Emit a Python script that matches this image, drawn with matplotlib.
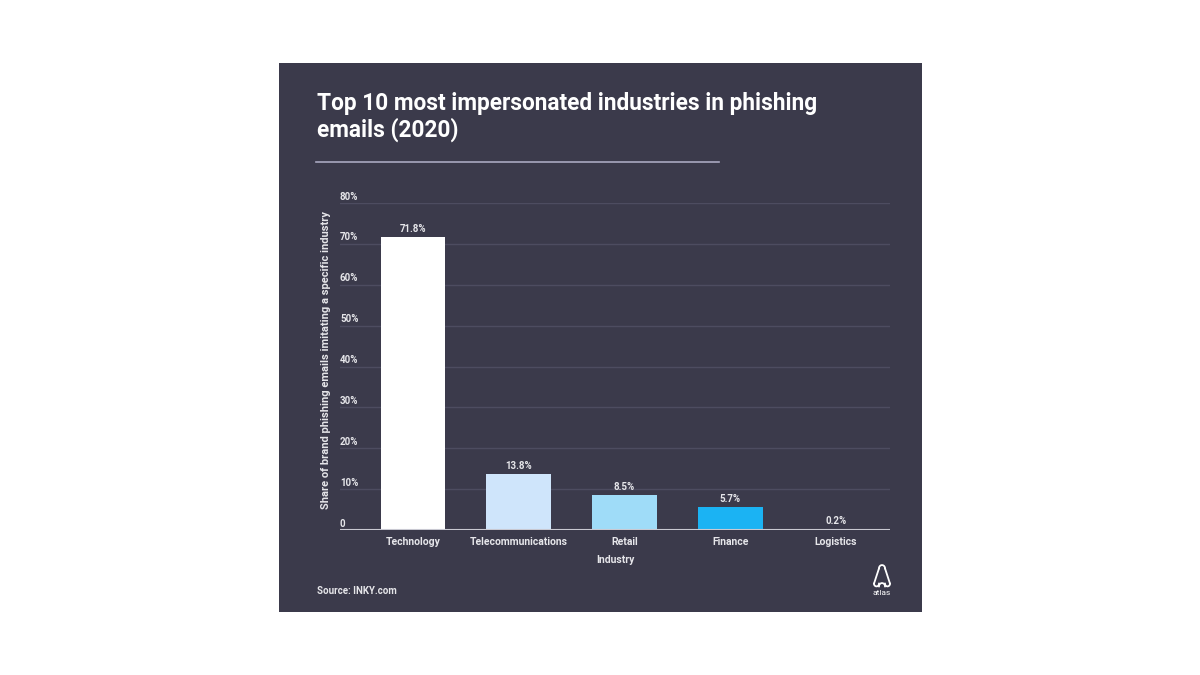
import matplotlib.pyplot as plt
from matplotlib.patches import Rectangle
from matplotlib.lines import Line2D
import numpy as np

industries = ["Technology", "Telecommunications", "Retail", "Finance", "Logistics"]
shares = [71.8, 13.8, 8.5, 5.7, 0.2]
bar_colors = ["#ffffff", "#cfe5fb", "#9fdcf8", "#1bb3f3", "#1a9de0"]
y_ticks = [0, 10, 20, 30, 40, 50, 60, 70, 80]
y_tick_labels = ["0", "10%", "20%", "30%", "40%", "50%", "60%", "70%", "80%"]

bg = "#3b3a4b"
grid_col = "#4d4c60"
text_col = "#e6e6ea"

plt.rcParams['font.family'] = ['Roboto', 'DejaVu Sans']

fig = plt.figure(figsize=(12, 6.75), dpi=100)
fig.patch.set_facecolor("white")

# dark card behind everything
fig.patches.append(Rectangle((279 / 1200, 1 - 612 / 675), 643 / 1200, 549 / 675,
                             transform=fig.transFigure, facecolor=bg, edgecolor="none", zorder=-10))

# title + separator
fig.text(317 / 1200, 1 - 92 / 675, "Top 10 most impersonated industries in phishing\nemails (2020)",
         color="white", fontsize=16.3, fontweight="bold", va="top", ha="left", linespacing=1.15)
fig.add_artist(Line2D([316 / 1200, 719 / 1200], [1 - 162 / 675, 1 - 162 / 675],
                      transform=fig.transFigure, color="#a9a8c0", linewidth=1.2))

ax = fig.add_axes([340 / 1200, 1 - 530 / 675, 550 / 1200, 327 / 675])
ax.set_zorder(1)
ax.set_facecolor("none")
x = np.arange(len(industries))
ax.bar(x, shares, width=0.61, color=bar_colors, zorder=3)
ax.set_xlim(-0.69, 4.51)
ax.set_ylim(0, 80)

for yt, lab in zip(y_ticks, y_tick_labels):
    if yt > 0:
        ax.axhline(yt, color=grid_col, linewidth=1, zorder=1)
    ax.annotate(lab, (0, yt), xycoords=("axes fraction", "data"), xytext=(0, 1),
                textcoords="offset points", color=text_col, fontsize=7, fontweight="bold",
                ha="left", va="bottom", annotation_clip=False)
ax.axhline(0, color="#c9c9d2", linewidth=1.5, zorder=4)

for xi, v in zip(x, shares):
    ax.annotate(f"{v}%", (xi, v), xytext=(0, 2), textcoords="offset points",
                ha="center", va="bottom", color=text_col, fontsize=7, fontweight="bold")

ax.set_yticks([])
ax.set_xticks(x)
ax.set_xticklabels(industries, color=text_col, fontsize=7.5, fontweight="bold")
ax.tick_params(axis="x", length=0, pad=5)
for s in ax.spines.values():
    s.set_visible(False)
ax.set_xlabel("Industry", color=text_col, fontsize=7.5, fontweight="bold", labelpad=6)

fig.text(326 / 1200, 1 - 360 / 675, "Share of brand phishing emails imitating a specific industry",
         rotation=90, color=text_col, fontsize=8, fontweight="bold", ha="center", va="center")

fig.text(317 / 1200, 1 - 591 / 675, "Source: INKY.com", color=text_col, fontsize=7,
         fontweight="bold", ha="left", va="center")

# atlas logo
lx = fig.add_axes([871 / 1200, 1 - 588 / 675, 22 / 1200, 24 / 675])
lx.set_zorder(1)
lx.axis("off")
t = np.linspace(0, np.pi, 60)
lw = 1.3
lx.plot([-0.8, -0.3], [-0.6, 0.8], color="white", lw=lw, solid_capstyle="round")
lx.plot([0.8, 0.3], [-0.6, 0.8], color="white", lw=lw, solid_capstyle="round")
lx.plot(0.3 * np.cos(t), 0.8 + 0.3 * np.sin(t), color="white", lw=lw)
lx.plot(-0.55 + 0.25 * np.cos(t + np.pi), -0.6 + 0.25 * np.sin(t + np.pi), color="white", lw=lw)
lx.plot(0.55 + 0.25 * np.cos(t + np.pi), -0.6 + 0.25 * np.sin(t + np.pi), color="white", lw=lw)
lx.plot(0.3 * np.cos(t), -0.85 + 0.3 * np.sin(t), color="white", lw=lw)
lx.set_xlim(-1.1, 1.1)
lx.set_ylim(-1.0, 1.2)
fig.text(882 / 1200, 1 - 593 / 675, "atlas", color="white", fontsize=6, ha="center", va="center")

fig.savefig("out.png", dpi=100, facecolor=fig.get_facecolor())
